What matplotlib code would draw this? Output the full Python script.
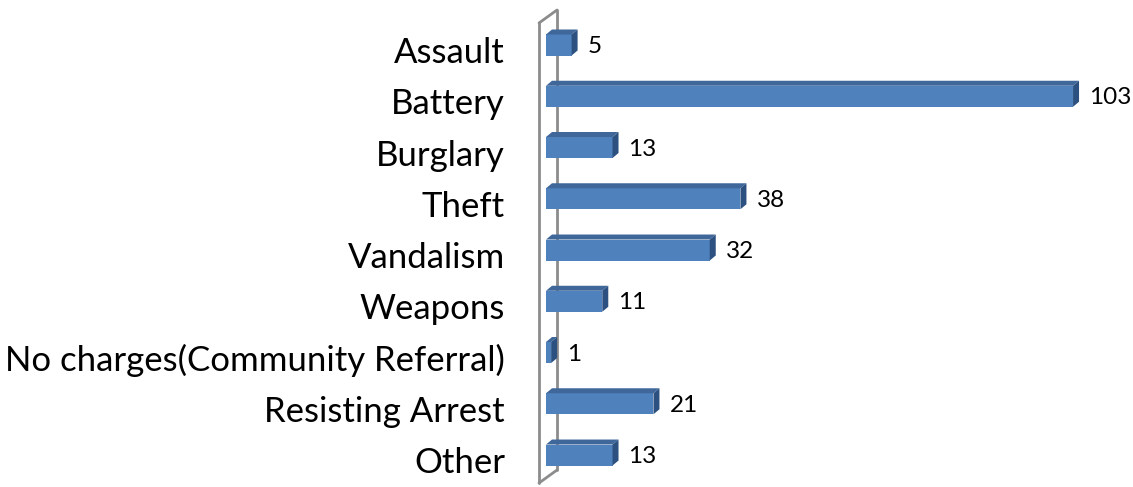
import matplotlib
matplotlib.use("Agg")
import matplotlib.pyplot as plt
from matplotlib.patches import Polygon
from matplotlib.transforms import ScaledTranslation
import numpy as np

categories = ["Assault", "Battery", "Burglary", "Theft", "Vandalism", "Weapons",
              "No charges(Community Referral)", "Resisting Arrest", "Other"]
values = [5, 103, 13, 38, 32, 11, 1, 21, 13]

W, H = 1133, 487
fig = plt.figure(figsize=(W / 100, H / 100), dpi=100)
x0_px = 546
px_per_unit = 5.117
xmax = 114
ax = fig.add_axes([x0_px / W, 0, xmax * px_per_unit / W, 1])
ax.set_xlim(0, xmax)
ax.set_ylim(8.624, -0.878)
for s in ax.spines.values():
    s.set_visible(False)
ax.set_xticks([])

px_per_cat = 51.25
front = "#4F81BD"
topc = "#3F679A"
sidec = "#2C5180"

# bar geometry (in data units)
h = 21 / px_per_cat
ddx = 6 / px_per_unit
ddy = 5 / px_per_cat

# back wall
wx0 = -7 / px_per_unit
wx1 = 11 / px_per_unit
wdy = 13 / px_per_cat
wy_top = (23 - 45) / px_per_cat
wy_bot = (483 - 45) / px_per_cat
wall_kw = dict(color="#8C8C8C", lw=2, clip_on=False, zorder=1, solid_capstyle="round")
ax.plot([wx0, wx0], [wy_top, wy_bot], **wall_kw)
ax.plot([wx1, wx1], [wy_top - wdy, wy_bot - wdy], **wall_kw)
ax.plot([wx0, wx1], [wy_top, wy_top - wdy], **wall_kw)
ax.plot([wx0, wx1], [wy_bot, wy_bot - wdy], **wall_kw)

y = np.arange(len(categories))
ax.barh(y, values, height=h, color=front, edgecolor="none", zorder=3, clip_on=False)
for yi, v in zip(y, values):
    t = yi - h / 2
    b = yi + h / 2
    top = Polygon([(0, t), (v, t), (v + ddx, t - ddy), (ddx, t - ddy)],
                  closed=True, facecolor=topc, edgecolor="none", zorder=3, clip_on=False)
    side = Polygon([(v, t), (v + ddx, t - ddy), (v + ddx, b - ddy), (v, b)],
                   closed=True, facecolor=sidec, edgecolor="none", zorder=3, clip_on=False)
    ax.add_patch(top)
    ax.add_patch(side)
    ax.text(v + ddx + 10 / px_per_unit, yi + 0.03, str(v), ha="left", va="center",
            fontsize=17.5, family=["Lato", "DejaVu Sans"], color="black")

ax.set_yticks(y)
ax.set_yticklabels(categories, fontsize=25, family=["Lato", "DejaVu Sans"])
ax.tick_params(axis="y", length=0, pad=41 * 0.72)
shift = ScaledTranslation(0, -5 / 100, fig.dpi_scale_trans)
for lbl in ax.get_yticklabels():
    lbl.set_transform(lbl.get_transform() + shift)

fig.savefig("out.png", dpi=100)
